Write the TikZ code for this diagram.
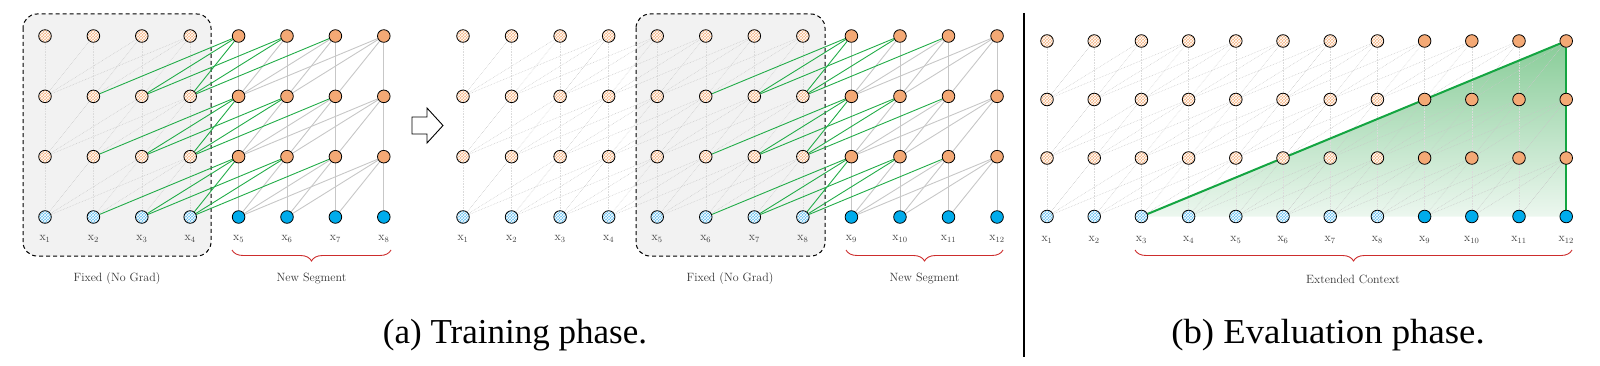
\documentclass[tikz,border=0pt]{standalone}
\usepackage{fontspec}
\newfontfamily\capfont{Liberation Serif}
\usetikzlibrary{patterns,decorations.pathreplacing}
\pgfdeclarelayer{boxl}
\pgfdeclarelayer{edgel}
\pgfdeclarelayer{greenl}
\pgfsetlayers{boxl,edgel,greenl,main}
\definecolor{cOS}{RGB}{244,169,117}
\definecolor{cOL}{RGB}{244,180,132}
\definecolor{cBS}{RGB}{0,172,236}
\definecolor{cBL}{RGB}{105,193,240}
\definecolor{cGreen}{RGB}{34,172,72}
\definecolor{cTri}{RGB}{20,165,65}
\definecolor{cGT}{RGB}{136,204,152}
\definecolor{cGB}{RGB}{236,247,239}
\definecolor{cBrace}{RGB}{205,45,45}
\definecolor{cBox}{RGB}{242,242,242}
\tikzset{
 nd/.style={circle,draw=black,line width=0.8pt,minimum size=12.6pt,inner sep=0pt},
 nOS/.style={nd,fill=cOS},
 nBS/.style={nd,fill=cBS},
 nOH/.style={nd,preaction={fill=cOL},pattern=crosshatch,pattern color=white},
 nBH/.style={nd,preaction={fill=cBL},pattern=crosshatch,pattern color=white},
 eDot/.style={draw=black!22,line width=0.5pt,dash pattern=on 0.6pt off 1pt},
 eDotV/.style={draw=black!14,line width=0.5pt,dash pattern=on 0.6pt off 1pt},
 eGray/.style={draw=black!22,line width=0.9pt},
 eGreen/.style={draw=cGreen,line width=0.9pt},
 eTri/.style={draw=cTri,line width=2pt},
 xlab/.style={anchor=base,text=black!75,font=\fontsize{12}{14}\selectfont},
 lab/.style={text=black!80,font=\fontsize{12}{14}\selectfont},
 fixbox/.style={fill=cBox,draw=black,line width=1pt,dash pattern=on 4pt off 3pt,rounded corners=14pt},
 brc/.style={draw=cBrace,line width=0.9pt,decorate,decoration={brace,mirror,amplitude=11pt}},
 captxt/.style={anchor=base,font=\capfont\fontsize{35}{40}\selectfont},
 blockarrow/.style={draw=black,line width=0.9pt,fill=white},
 divider/.style={draw=black,line width=1.2pt},
}
% #1 prefix, #2 columns, #3 first new column, #4 pass (0 gray/dotted, 1 green)
\newcommand\segedges[4]{%
\foreach \i in {1,...,#2}{\foreach \l in {0,1,2}{%
 \pgfmathtruncatemacro\u{\l+1}%
 \foreach \d in {0,...,3}{%
  \pgfmathtruncatemacro\j{\i-\d}%
  \ifnum\j>0
   \ifnum\i<#3
     \ifnum#4=0
       \ifnum\d=0 \draw[eDotV] (#1-\j-\l) -- (#1-\i-\u);
       \else \draw[eDot] (#1-\j-\l) -- (#1-\i-\u);\fi
     \fi
   \else
     \ifnum\j<#3
       \ifnum#4=1 \draw[eGreen] (#1-\j-\l) -- (#1-\i-\u);\fi
     \else
       \ifnum#4=0 \draw[eGray] (#1-\j-\l) -- (#1-\i-\u);\fi
     \fi
   \fi
  \fi}}}}
% #1 prefix, #2 columns, #3 x0, #4 dx, #5 y0, #6 dy, #7 first new column, #8 label y
\newcommand\segnodes[8]{%
\foreach \i in {1,...,#2}{%
  \pgfmathsetmacro\xx{#3+#4*(\i-1)}%
  \foreach \l in {0,...,3}{%
    \pgfmathsetmacro\yy{#5+#6*\l}%
    \ifnum\l=0 \def\st{nB}\else\def\st{nO}\fi
    \ifnum\i<#7 \edef\st{\st H}\else\edef\st{\st S}\fi
    \node[\st] (#1-\i-\l) at (\xx,\yy) {};
  }%
  \node[xlab] (l#1-\i) at (\xx,#8) {$\mathrm{x}_{\i}$};
}}
\begin{document}
\begin{tikzpicture}[x=1pt,y=1pt]
\useasboundingbox (0,0) rectangle (1600,365);

% ---------- nodes ----------
\segnodes{a}{8}{45}{48.4}{148}{60.33}{5}{124.5}
\segnodes{b}{12}{463}{48.55}{148}{60.33}{9}{124.5}
\segnodes{c}{12}{1047}{47.2}{148.5}{58.5}{9}{123.5}

% ---------- backgrounds ----------
\begin{pgfonlayer}{boxl}
\draw[fixbox] (23,351) rectangle (211,109);
\draw[fixbox] (636,351) rectangle (825,109);
\shade[top color=cGT,bottom color=cGB] (c-3-0.center) -- (c-12-3.center) -- (c-12-0.center) -- cycle;
\end{pgfonlayer}

% ---------- edges ----------
\begin{pgfonlayer}{edgel}
\segedges{a}{8}{5}{0}
\segedges{b}{12}{9}{0}
\segedges{c}{12}{13}{0}
\end{pgfonlayer}
\begin{pgfonlayer}{greenl}
\segedges{a}{8}{5}{1}
\segedges{b}{12}{9}{1}
\draw[eTri] (c-3-0) -- (c-12-3);
\draw[eTri] (c-12-3) -- (c-12-0);
\end{pgfonlayer}

% ---------- labels and braces ----------
\node[lab] (fa) at (117,86) {Fixed (No Grad)};
\node[lab] (na) at (311.5,86) {New Segment};
\coordinate (bra1) at (232,115);
\coordinate (bra2) at (391,115);
\draw[brc] (bra1) -- (bra2);

\node[lab] (fb) at (730,86) {Fixed (No Grad)};
\node[lab] (nb) at (924.5,86) {New Segment};
\coordinate (brb1) at (846,115);
\coordinate (brb2) at (1003,115);
\draw[brc] (brb1) -- (brb2);

\node[lab] (ec) at (1353,86) {Extended Context};
\coordinate (brc1) at (1135,115);
\coordinate (brc2) at (1572,115);
\draw[brc] (brc1) -- (brc2);

% ---------- arrow ----------
\draw[blockarrow] (412,248) -- (427,248) -- (427,257) -- (443,239.5) -- (427,222) -- (427,231) -- (412,231) -- cycle;

% ---------- divider ----------
\coordinate (dv1) at (1024,352);
\coordinate (dv2) at (1024,8);
\draw[divider] (dv1) -- (dv2);

% ---------- captions ----------
\node[captxt] (capa) at (515,22) {(a) Training phase.};
\node[captxt,xscale=1.05,transform shape] (capb) at (1328,22) {(b) Evaluation phase.};
\end{tikzpicture}
\end{document}
